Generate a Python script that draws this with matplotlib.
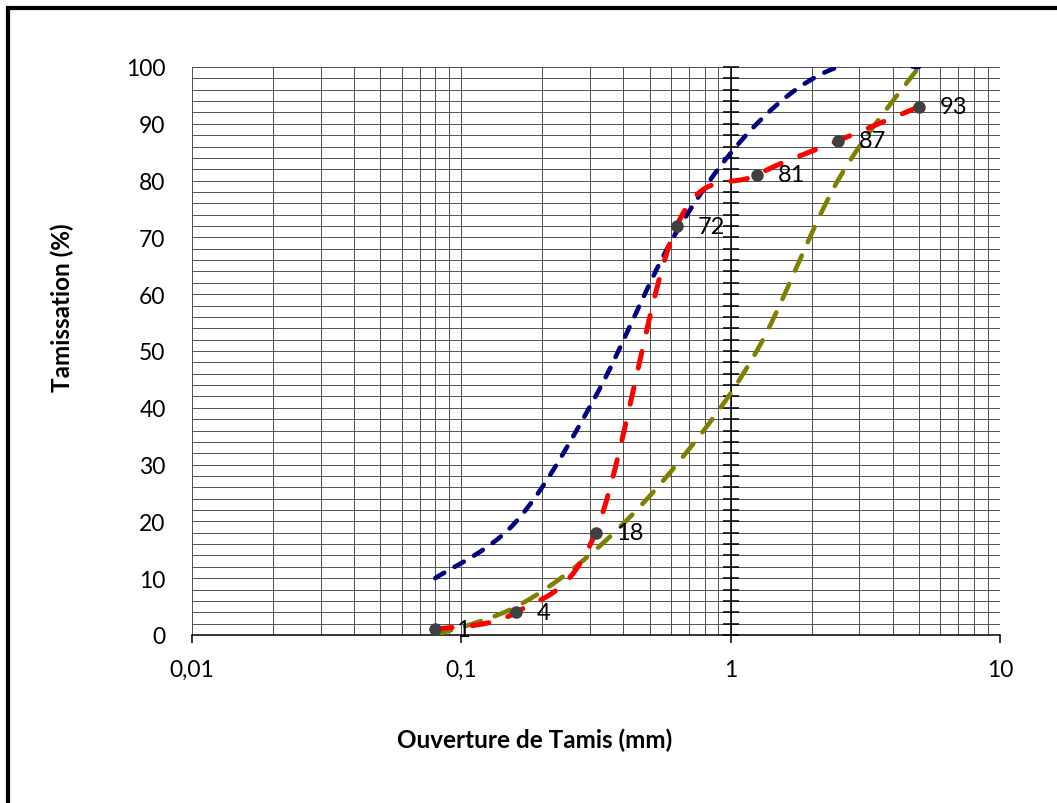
import numpy as np
import matplotlib
matplotlib.use("Agg")
import matplotlib.pyplot as plt
from matplotlib.patches import Rectangle
from matplotlib.ticker import FixedLocator, NullFormatter

plt.rcParams['font.family'] = ['Lato', 'DejaVu Sans']

# sieve openings (mm)
tamis = [0.08, 0.16, 0.315, 0.63, 1.25, 2.5, 5]
# measured passing (%)
sable = [1, 4, 18, 72, 81, 87, 93]
# envelope curves
fuseau_sup = [10, 20, 42, 71, 90, 100, 100]
fuseau_inf = [0, 5, 15, 30, 50, 80, 100]

xticks = [0.01, 0.1, 1, 10]
xticklabels = ["0,01", "0,1", "1", "10"]
yticks = list(range(0, 101, 10))


def smooth(xs, ys, n=40):
    # excel-like smoothed line (catmull-rom bezier in log-x space)
    lx = np.log10(xs)
    p = np.column_stack([lx, ys]).astype(float)
    pp = np.vstack([p[0], p, p[-1]])
    out = []
    t = np.linspace(0, 1, n)[:, None]
    for i in range(1, len(pp) - 2):
        p0, p1, p2, p3 = pp[i - 1], pp[i], pp[i + 1], pp[i + 2]
        c1 = p1 + (p2 - p0) / 6
        c2 = p2 - (p3 - p1) / 6
        seg = ((1 - t) ** 3) * p1 + 3 * ((1 - t) ** 2) * t * c1 + 3 * (1 - t) * t ** 2 * c2 + t ** 3 * p2
        out.append(seg if i == 1 else seg[1:])
    out = np.vstack(out)
    return 10 ** out[:, 0], out[:, 1]


fig = plt.figure(figsize=(10.57, 8.04), dpi=100)
ax = fig.add_axes([192 / 1057, 1 - 636 / 804, 808 / 1057, 568 / 804])
ax.set_xscale("log")
ax.set_xlim(0.01, 10)
ax.set_ylim(0, 100)

# grid
minors = [m * 10.0 ** e for e in range(-2, 1) for m in range(2, 10)]
for x in minors + xticks:
    ax.axvline(x, color="#505050", lw=0.7, zorder=1)
for y in range(2, 101, 2):
    ax.axhline(y, color="#505050", lw=0.7, zorder=1)

# vertical axis line crossing at x = 1, with small ticks
ax.axvline(1, color="black", lw=1.1, zorder=2)
ax.plot([1] * len(range(0, 101, 2)), list(range(0, 101, 2)), ls="none", marker="_",
        ms=11, mew=1.1, color="black", zorder=2, clip_on=False)

# curves
sx, sy = smooth(tamis, fuseau_inf)
ax.plot(sx, sy, color="#808000", lw=3.3, dashes=(3.6, 3.2), dash_capstyle="round", zorder=3)
sx, sy = smooth(tamis, fuseau_sup)
ax.plot(sx, sy, color="#000080", lw=3.3, dashes=(2.3, 2.6), dash_capstyle="round", zorder=4)
sx, sy = smooth(tamis, sable)
ax.plot(sx, sy, color="#ff0000", lw=3.6, dashes=(3.4, 4.0), dash_capstyle="round", zorder=5)
ax.plot(tamis, sable, ls="none", marker="o", ms=8, color="#404040", zorder=6, clip_on=False)

for x, y in zip(tamis, sable):
    ax.annotate(str(y), (x, y), xytext=(15, 0), textcoords="offset points",
                ha="left", va="center", fontsize=17, color="black", zorder=7)

# axes styling
for s in ["top", "right", "left"]:
    ax.spines[s].set_visible(False)
ax.spines["bottom"].set_linewidth(1.1)
ax.spines["bottom"].set_zorder(2)
ax.xaxis.set_major_locator(FixedLocator(xticks))
ax.xaxis.set_minor_locator(FixedLocator([]))
ax.xaxis.set_minor_formatter(NullFormatter())
ax.set_xticklabels(xticklabels)
ax.set_yticks(yticks)
ax.tick_params(axis="x", which="major", direction="out", length=6, width=1.1, pad=11, labelsize=16.5)
ax.tick_params(axis="y", length=0, pad=19, labelsize=16.5)

fig.text(535 / 1057, 1 - 740 / 804, "Ouverture de Tamis (mm)", ha="center", va="center",
         fontsize=17.5, fontweight="bold")
fig.text(62 / 1057, 1 - 308 / 804, "Tamissation (%)", ha="center", va="center",
         rotation=90, fontsize=17.5, fontweight="bold")

# outer frame (right and bottom edges fall outside the picture)
fig.patches.append(Rectangle((7.5 / 1057, -0.1), 1.2, (1 - 9 / 804) + 0.1, transform=fig.transFigure,
                             fill=False, edgecolor="black", lw=3, zorder=10))

fig.savefig("out.png", dpi=100)
